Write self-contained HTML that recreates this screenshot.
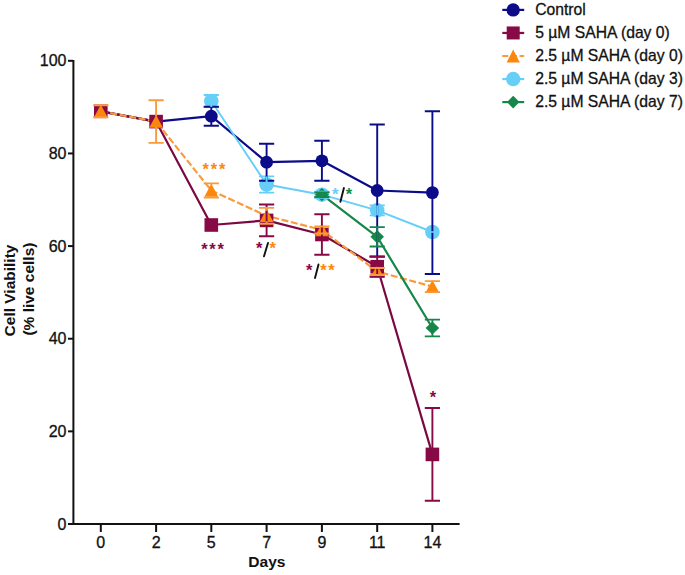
<!DOCTYPE html>
<html><head><meta charset="utf-8"><style>
html,body{margin:0;padding:0;background:#fff;}
svg{display:block;font-family:"Liberation Sans",sans-serif;}
.t{stroke:#111;stroke-width:0.3px;}

</style></head><body>
<svg width="685" height="575" viewBox="0 0 685 575" fill="#111">
<polyline points="100.8,111.3 156.1,121.6 211.3,116.2 266.6,162.2 321.9,160.8 377.2,190.5 432.4,192.6" fill="none" stroke="#0c0c8a" stroke-width="2.2" stroke-linejoin="round"/>
<polyline points="100.8,111.3 156.1,121.6 211.3,225 266.6,220.4 321.9,234.5 377.2,266.7 432.4,454.4" fill="none" stroke="#7a0942" stroke-width="2.2" stroke-linejoin="round"/>
<polyline points="100.8,111.3 156.1,121.6 211.3,190.5 266.6,215.8 321.9,230 377.2,271.5 432.4,286.6" fill="none" stroke="#f99a3c" stroke-width="2.2" stroke-dasharray="7 2.6" stroke-linejoin="round"/>
<polyline points="211.3,101 266.6,184.5 321.9,194.7 377.2,210.4 432.4,232" fill="none" stroke="#66cff8" stroke-width="1.9" stroke-linejoin="round"/>
<polyline points="321.9,194.7 377.2,236.8 432.4,328" fill="none" stroke="#158748" stroke-width="2.2" stroke-linejoin="round"/>
<circle cx="100.8" cy="111.3" r="6.40" fill="#0c0c8a"/>
<circle cx="156.1" cy="121.6" r="6.40" fill="#0c0c8a"/>
<circle cx="211.3" cy="116.2" r="6.40" fill="#0c0c8a"/>
<circle cx="266.6" cy="162.2" r="6.40" fill="#0c0c8a"/>
<circle cx="321.9" cy="160.8" r="6.40" fill="#0c0c8a"/>
<circle cx="377.2" cy="190.5" r="6.40" fill="#0c0c8a"/>
<circle cx="432.4" cy="192.6" r="6.40" fill="#0c0c8a"/>
<rect x="94.00" y="104.50" width="13.60" height="13.60" fill="#870a46"/>
<rect x="149.30" y="114.80" width="13.60" height="13.60" fill="#870a46"/>
<rect x="204.50" y="218.20" width="13.60" height="13.60" fill="#870a46"/>
<rect x="259.80" y="213.60" width="13.60" height="13.60" fill="#870a46"/>
<rect x="315.10" y="227.70" width="13.60" height="13.60" fill="#870a46"/>
<rect x="370.40" y="259.90" width="13.60" height="13.60" fill="#870a46"/>
<rect x="425.60" y="447.60" width="13.60" height="13.60" fill="#870a46"/>
<path d="M100.80 104.60 L107.70 117.50 L93.90 117.50 Z" fill="#fd870c"/>
<path d="M156.10 114.90 L163.00 127.80 L149.20 127.80 Z" fill="#fd870c"/>
<path d="M211.30 183.80 L218.20 196.70 L204.40 196.70 Z" fill="#fd870c"/>
<path d="M266.60 209.10 L273.50 222.00 L259.70 222.00 Z" fill="#fd870c"/>
<path d="M321.90 223.30 L328.80 236.20 L315.00 236.20 Z" fill="#fd870c"/>
<path d="M377.20 264.80 L384.10 277.70 L370.30 277.70 Z" fill="#fd870c"/>
<path d="M432.40 279.90 L439.30 292.80 L425.50 292.80 Z" fill="#fd870c"/>
<circle cx="211.3" cy="101" r="7.30" fill="#66cff8"/>
<circle cx="266.6" cy="184.5" r="7.30" fill="#66cff8"/>
<circle cx="321.9" cy="194.7" r="7.30" fill="#66cff8"/>
<circle cx="377.2" cy="210.4" r="7.30" fill="#66cff8"/>
<circle cx="432.4" cy="232" r="7.30" fill="#66cff8"/>
<path d="M321.90 188.10 L328.70 194.70 L321.90 201.30 L315.10 194.70 Z" fill="#158748"/>
<path d="M377.20 230.20 L384.00 236.80 L377.20 243.40 L370.40 236.80 Z" fill="#158748"/>
<path d="M432.40 321.40 L439.20 328.00 L432.40 334.60 L425.60 328.00 Z" fill="#158748"/>
<path d="M203.70000000000002 95.00 H218.9 M203.70000000000002 107.00 H218.9" stroke="#66cff8" stroke-width="1.9" fill="none"/>
<path d="M259.0 176.40 H274.20000000000005 M259.0 192.60 H274.20000000000005" stroke="#66cff8" stroke-width="1.9" fill="none"/>
<path d="M314.29999999999995 191.70 H329.5 M314.29999999999995 197.70 H329.5" stroke="#66cff8" stroke-width="1.9" fill="none"/>
<path d="M369.59999999999997 205.40 H384.8 M369.59999999999997 215.40 H384.8" stroke="#66cff8" stroke-width="1.9" fill="none"/>
<path d="M211.3 106.70 V125.70 M203.70000000000002 106.70 H218.9 M203.70000000000002 125.70 H218.9" stroke="#0c0c8a" stroke-width="1.9" fill="none"/>
<path d="M266.6 143.70 V180.70 M259.0 143.70 H274.20000000000005 M259.0 180.70 H274.20000000000005" stroke="#0c0c8a" stroke-width="1.9" fill="none"/>
<path d="M321.9 140.80 V180.80 M314.29999999999995 140.80 H329.5 M314.29999999999995 180.80 H329.5" stroke="#0c0c8a" stroke-width="1.9" fill="none"/>
<path d="M377.2 124.50 V256.50 M369.59999999999997 124.50 H384.8 M369.59999999999997 256.50 H384.8" stroke="#0c0c8a" stroke-width="1.9" fill="none"/>
<path d="M432.4 111.20 V274.00 M424.79999999999995 111.20 H440.0 M424.79999999999995 274.00 H440.0" stroke="#0c0c8a" stroke-width="1.9" fill="none"/>
<path d="M266.6 204.50 V236.30 M259.0 204.50 H274.20000000000005 M259.0 236.30 H274.20000000000005" stroke="#870a46" stroke-width="1.9" fill="none"/>
<path d="M321.9 214.30 V254.70 M314.29999999999995 214.30 H329.5 M314.29999999999995 254.70 H329.5" stroke="#870a46" stroke-width="1.9" fill="none"/>
<path d="M377.2 256.70 V276.70 M369.59999999999997 256.70 H384.8 M369.59999999999997 276.70 H384.8" stroke="#870a46" stroke-width="1.9" fill="none"/>
<path d="M432.4 408.00 V500.80 M424.79999999999995 408.00 H440.0 M424.79999999999995 500.80 H440.0" stroke="#870a46" stroke-width="1.9" fill="none"/>
<path d="M93.2 105.30 H108.39999999999999 M93.2 117.30 H108.39999999999999" stroke="#f99a3c" stroke-width="1.9" fill="none"/>
<path d="M156.1 100.30 V116.60 M156.1 127.10 V142.90 M148.5 100.30 H163.7 M148.5 142.90 H163.7" stroke="#f99a3c" stroke-width="1.9" fill="none"/>
<path d="M211.3 183.40 V185.50 M211.3 196.00 V197.60 M203.70000000000002 183.40 H218.9 M203.70000000000002 197.60 H218.9" stroke="#f99a3c" stroke-width="1.9" fill="none"/>
<path d="M266.6 207.90 V210.80 M266.6 221.30 V223.70 M259.0 207.90 H274.20000000000005 M259.0 223.70 H274.20000000000005" stroke="#f99a3c" stroke-width="1.9" fill="none"/>
<path d="M314.29999999999995 226.50 H329.5 M314.29999999999995 233.50 H329.5" stroke="#f99a3c" stroke-width="1.9" fill="none"/>
<path d="M369.59999999999997 268.00 H384.8 M369.59999999999997 275.00 H384.8" stroke="#f99a3c" stroke-width="1.9" fill="none"/>
<path d="M424.79999999999995 281.10 H440.0 M424.79999999999995 292.10 H440.0" stroke="#f99a3c" stroke-width="1.9" fill="none"/>
<path d="M211.3 95.00 V107.00 " stroke="#66cff8" stroke-width="1.9" fill="none"/>
<path d="M266.6 176.40 V192.60 " stroke="#66cff8" stroke-width="1.9" fill="none"/>
<path d="M321.9 191.70 V197.70 " stroke="#66cff8" stroke-width="1.9" fill="none"/>
<path d="M377.2 205.40 V215.40 " stroke="#66cff8" stroke-width="1.9" fill="none"/>
<path d="M429.4 232.00 H435.4" stroke="#66cff8" stroke-width="1.6"/>
<path d="M321.9 192.40 V197.00 M314.29999999999995 192.40 H329.5 M314.29999999999995 197.00 H329.5" stroke="#158748" stroke-width="1.9" fill="none"/>
<path d="M377.2 227.10 V246.50 M369.59999999999997 227.10 H384.8 M369.59999999999997 246.50 H384.8" stroke="#158748" stroke-width="1.9" fill="none"/>
<path d="M432.4 319.60 V336.40 M424.79999999999995 319.60 H440.0 M424.79999999999995 336.40 H440.0" stroke="#158748" stroke-width="1.9" fill="none"/>
<path d="M73.4 60 V525 M68 524 H459.6" stroke="#111" stroke-width="2" fill="none"/>
<path d="M68 524.00 H73" stroke="#111" stroke-width="2"/>
<text class="t" x="66.5" y="529.60" text-anchor="end" font-size="16">0</text>
<path d="M68 431.36 H73" stroke="#111" stroke-width="2"/>
<text class="t" x="66.5" y="436.96" text-anchor="end" font-size="16">20</text>
<path d="M68 338.72 H73" stroke="#111" stroke-width="2"/>
<text class="t" x="66.5" y="344.32" text-anchor="end" font-size="16">40</text>
<path d="M68 246.08 H73" stroke="#111" stroke-width="2"/>
<text class="t" x="66.5" y="251.68" text-anchor="end" font-size="16">60</text>
<path d="M68 153.44 H73" stroke="#111" stroke-width="2"/>
<text class="t" x="66.5" y="159.04" text-anchor="end" font-size="16">80</text>
<path d="M68 60.80 H73" stroke="#111" stroke-width="2"/>
<text class="t" x="66.5" y="66.40" text-anchor="end" font-size="16">100</text>
<path d="M100.8 524 V532" stroke="#111" stroke-width="2"/>
<text class="t" x="100.8" y="548" text-anchor="middle" font-size="16">0</text>
<path d="M156.1 524 V532" stroke="#111" stroke-width="2"/>
<text class="t" x="156.1" y="548" text-anchor="middle" font-size="16">2</text>
<path d="M211.3 524 V532" stroke="#111" stroke-width="2"/>
<text class="t" x="211.3" y="548" text-anchor="middle" font-size="16">5</text>
<path d="M266.6 524 V532" stroke="#111" stroke-width="2"/>
<text class="t" x="266.6" y="548" text-anchor="middle" font-size="16">7</text>
<path d="M321.9 524 V532" stroke="#111" stroke-width="2"/>
<text class="t" x="321.9" y="548" text-anchor="middle" font-size="16">9</text>
<path d="M377.2 524 V532" stroke="#111" stroke-width="2"/>
<text class="t" x="377.2" y="548" text-anchor="middle" font-size="16">11</text>
<path d="M432.4 524 V532" stroke="#111" stroke-width="2"/>
<text class="t" x="432.4" y="548" text-anchor="middle" font-size="16">14</text>
<text x="266.9" y="567.4" text-anchor="middle" font-size="15.5" font-weight="bold" textLength="37.2" lengthAdjust="spacingAndGlyphs">Days</text>
<text transform="translate(14.9,290.5) rotate(-90)" text-anchor="middle" font-size="15.5" font-weight="bold">Cell Viability</text>
<text transform="translate(34.0,289.1) rotate(-90)" text-anchor="middle" font-size="15.5" font-weight="bold">(% live cells)</text>
<text x="205.78" y="175.38" text-anchor="middle" font-size="16.5" font-weight="bold" fill="#fd870c">*</text>
<text x="213.98" y="175.38" text-anchor="middle" font-size="16.5" font-weight="bold" fill="#fd870c">*</text>
<text x="222.18" y="175.38" text-anchor="middle" font-size="16.5" font-weight="bold" fill="#fd870c">*</text>
<text x="204.48" y="254.98" text-anchor="middle" font-size="16.5" font-weight="bold" fill="#870a46">*</text>
<text x="212.58" y="254.98" text-anchor="middle" font-size="16.5" font-weight="bold" fill="#870a46">*</text>
<text x="220.68" y="254.98" text-anchor="middle" font-size="16.5" font-weight="bold" fill="#870a46">*</text>
<text x="259.18" y="253.98" text-anchor="middle" font-size="16.5" font-weight="bold" fill="#870a46">*</text>
<text x="272.68" y="253.98" text-anchor="middle" font-size="16.5" font-weight="bold" fill="#fd870c">*</text>
<path d="M264 256.3 L268 243" stroke="#111" stroke-width="1.9" stroke-linecap="round"/>
<text x="335.28" y="199.58" text-anchor="middle" font-size="16.5" font-weight="bold" fill="#66cff8">*</text>
<text x="349.08" y="199.78" text-anchor="middle" font-size="16.5" font-weight="bold" fill="#158748">*</text>
<path d="M340.4 201.8 L343.9 188" stroke="#111" stroke-width="1.9" stroke-linecap="round"/>
<text x="309.28" y="276.18" text-anchor="middle" font-size="16.5" font-weight="bold" fill="#870a46">*</text>
<text x="323.48" y="276.18" text-anchor="middle" font-size="16.5" font-weight="bold" fill="#fd870c">*</text>
<text x="331.48" y="276.18" text-anchor="middle" font-size="16.5" font-weight="bold" fill="#fd870c">*</text>
<path d="M315 278.1 L318.5 264.5" stroke="#111" stroke-width="1.9" stroke-linecap="round"/>
<text x="433.08" y="403.18" text-anchor="middle" font-size="16.5" font-weight="bold" fill="#870a46">*</text>
<path d="M502.3 9.90 H524.2" stroke="#0c0c8a" stroke-width="2.2"/>
<circle cx="513.2" cy="9.9" r="6.70" fill="#0c0c8a"/>
<text class="t" x="535.2" y="15.20" font-size="15.7">Control</text>
<path d="M502.3 32.95 H524.2" stroke="#870a46" stroke-width="2.2"/>
<rect x="506.70" y="26.45" width="13.00" height="13.00" fill="#870a46"/>
<text class="t" x="535.2" y="38.20" font-size="15.7">5 µM SAHA (day 0)</text>
<path d="M502.3 56.00 H524.2" stroke="#f99a3c" stroke-width="2.2" stroke-dasharray="6 2.6"/>
<path d="M513.20 49.40 L519.80 62.50 L506.60 62.50 Z" fill="#fd870c"/>
<text class="t" x="535.2" y="61.20" font-size="15.7">2.5 µM SAHA (day 0)</text>
<path d="M502.3 79.05 H524.2" stroke="#66cff8" stroke-width="2.2"/>
<circle cx="513.2" cy="79.05000000000001" r="7.20" fill="#66cff8"/>
<text class="t" x="535.2" y="84.20" font-size="15.7">2.5 µM SAHA (day 3)</text>
<path d="M502.3 102.10 H524.2" stroke="#158748" stroke-width="2.2"/>
<path d="M513.20 95.70 L519.40 102.10 L513.20 108.50 L507.00 102.10 Z" fill="#158748"/>
<text class="t" x="535.2" y="107.20" font-size="15.7">2.5 µM SAHA (day 7)</text>
</svg>
</body></html>
